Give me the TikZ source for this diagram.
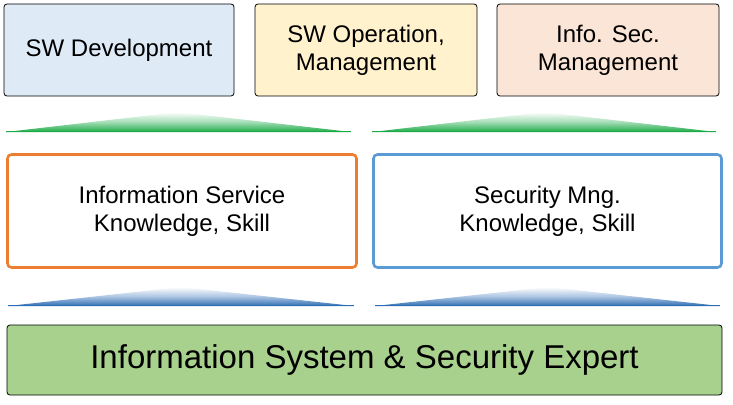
\documentclass[tikz,border=0pt]{standalone}
\usepackage{fontspec}
\setmainfont{Liberation Sans}
\definecolor{fillA}{HTML}{DEEBF7}
\definecolor{fillB}{HTML}{FFF2CC}
\definecolor{fillC}{HTML}{FBE5D6}
\definecolor{orangeB}{HTML}{ED7D31}
\definecolor{blueB}{HTML}{5B9BD5}
\definecolor{greenF}{HTML}{A9D18E}
\definecolor{triG}{HTML}{1AAA46}
\definecolor{triB}{HTML}{2E6DB4}
\tikzset{
  topbox/.style={draw=black, line width=0.8pt, rounded corners=3pt, inner sep=0pt, align=center, font=\fontsize{24}{28}\selectfont},
  midbox/.style={line width=2.6pt, rounded corners=4pt, fill=white, inner sep=0pt, align=center, font=\fontsize{24}{28}\selectfont},
  basebox/.style={draw=black, line width=0.8pt, rounded corners=3pt, fill=greenF, inner sep=0pt, align=center, font=\fontsize{33}{36}\selectfont},
}
\begin{document}
\begin{tikzpicture}[x=1pt,y=-1pt]
\useasboundingbox (0,0) rectangle (733,404);
% top boxes
\node[topbox, fill=fillA, minimum width=230pt, minimum height=92pt] (dev) at (119,50) {SW Development};
\node[topbox, fill=fillB, minimum width=222pt, minimum height=92pt] (ops) at (366,50) {SW Operation,\\Management};
\node[topbox, fill=fillC, minimum width=222pt, minimum height=92pt] (sec) at (608,50) {Info. Sec.\\Management};
% green triangles
\shade[top color=white, bottom color=triG, middle color=triG!40] (6,132) -- (178,112) -- (351,132) -- cycle;
\shade[top color=white, bottom color=triG, middle color=triG!40] (372,132) -- (544,112) -- (716,132) -- cycle;
\draw[triG, line width=1.5pt] (6,131.5) -- (351,131.5);
\draw[triG, line width=1.5pt] (372,131.5) -- (716,131.5);
% middle boxes
\node[midbox, draw=orangeB, minimum width=349pt, minimum height=113pt] (info) at (182,211) {Information Service\\Knowledge, Skill};
\node[midbox, draw=blueB, minimum width=348pt, minimum height=113pt] (mng) at (547.5,211) {Security Mng.\\Knowledge, Skill};
% blue triangles
\shade[top color=white, bottom color=triB, middle color=triB!40] (8,306) -- (181,287) -- (354,306) -- cycle;
\shade[top color=white, bottom color=triB, middle color=triB!40] (375,306) -- (548,287) -- (720,306) -- cycle;
\draw[triB, line width=1.5pt] (8,305.5) -- (354,305.5);
\draw[triB, line width=1.5pt] (375,305.5) -- (720,305.5);
% base
\node[basebox, minimum width=715pt, minimum height=70pt] (expert) at (364.5,360) {Information System \& Security Expert};
\end{tikzpicture}
\end{document}
